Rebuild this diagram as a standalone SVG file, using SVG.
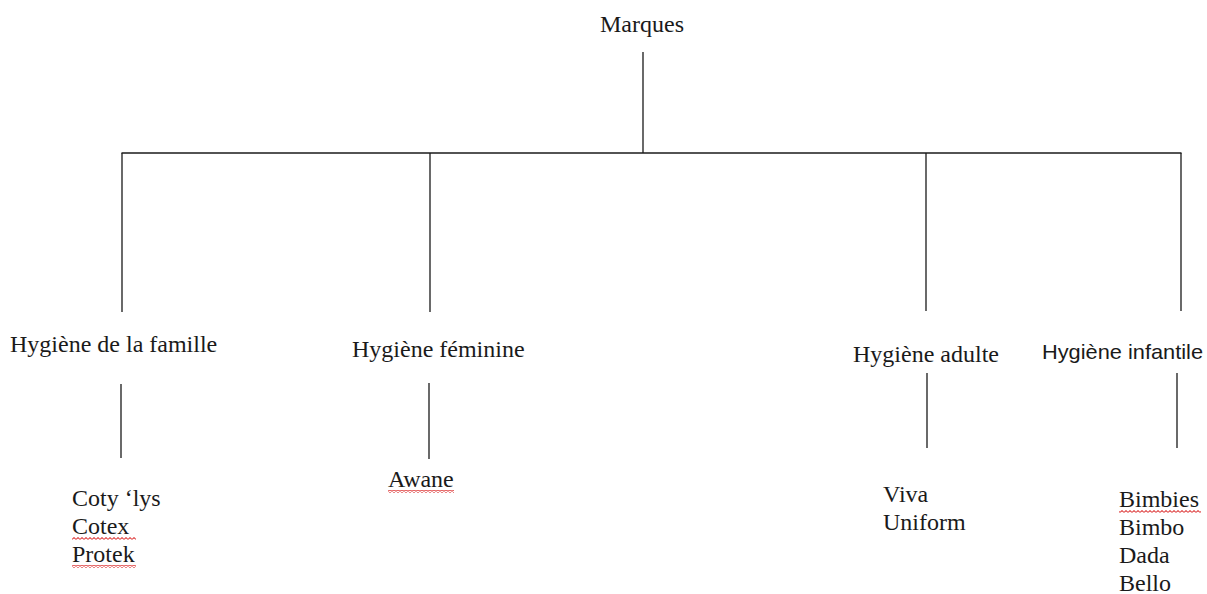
<svg xmlns="http://www.w3.org/2000/svg" width="1207" height="594" viewBox="0 0 1207 594">
  <style>
    .t { font-family: "Liberation Serif", "Times New Roman", serif; font-size: 24px; fill: #1a1a1a; }
    .s { font-family: "Liberation Sans", Arial, sans-serif; font-size: 21px; fill: #1a1a1a; }
    .c line { stroke: #1a1a1a; stroke-width: 1.3; }
  </style>
  <defs>
    <pattern id="squig" width="4" height="3" patternUnits="userSpaceOnUse">
      <path d="M0 2.4 L2 0.6 L4 2.4" fill="none" stroke="#e04848" stroke-width="1.1"/>
    </pattern>
  </defs>
  <rect width="1207" height="594" fill="#ffffff"/>

  <g id="connectors" class="c">
    <line x1="643" y1="52" x2="643" y2="153"/>
    <line x1="121.5" y1="153" x2="1181.5" y2="153"/>
    <line x1="122" y1="153" x2="122" y2="312"/>
    <line x1="430" y1="153" x2="430" y2="312"/>
    <line x1="926" y1="153" x2="926" y2="311"/>
    <line x1="1181" y1="153" x2="1181" y2="311"/>
    <line x1="121" y1="384" x2="121" y2="458"/>
    <line x1="429" y1="383" x2="429" y2="459"/>
    <line x1="927" y1="373" x2="927" y2="448"/>
    <line x1="1177" y1="373" x2="1177" y2="448"/>
  </g>

  <g id="node-marques">
    <text class="t" x="642" y="32" text-anchor="middle">Marques</text>
  </g>

  <g id="node-famille">
    <text class="t" x="10" y="352">Hygiène de la famille</text>
  </g>
  <g id="node-feminine">
    <text class="t" x="352" y="357">Hygiène féminine</text>
  </g>
  <g id="node-adulte">
    <text class="t" x="853" y="362">Hygiène adulte</text>
  </g>
  <g id="node-infantile">
    <text class="s" x="1042" y="359" textLength="161" lengthAdjust="spacingAndGlyphs">Hygiène infantile</text>
  </g>

  <g id="leaf-famille">
    <text class="t" x="72" y="506">Coty ‘lys</text>
    <text class="t" x="72" y="534">Cotex</text>
    <text class="t" x="72" y="562">Protek</text>
    <rect x="72" y="537" width="64" height="3" fill="url(#squig)"/>
    <rect x="72" y="565" width="64" height="3" fill="url(#squig)"/>
  </g>
  <g id="leaf-feminine">
    <text class="t" x="388" y="487">Awane</text>
    <rect x="388" y="490" width="66" height="3" fill="url(#squig)"/>
  </g>
  <g id="leaf-adulte">
    <text class="t" x="883" y="502">Viva</text>
    <text class="t" x="883" y="530">Uniform</text>
  </g>
  <g id="leaf-infantile">
    <text class="t" x="1119" y="507">Bimbies</text>
    <text class="t" x="1119" y="535">Bimbo</text>
    <text class="t" x="1119" y="563">Dada</text>
    <text class="t" x="1119" y="591">Bello</text>
    <rect x="1119" y="510" width="82" height="3" fill="url(#squig)"/>
  </g>
</svg>
